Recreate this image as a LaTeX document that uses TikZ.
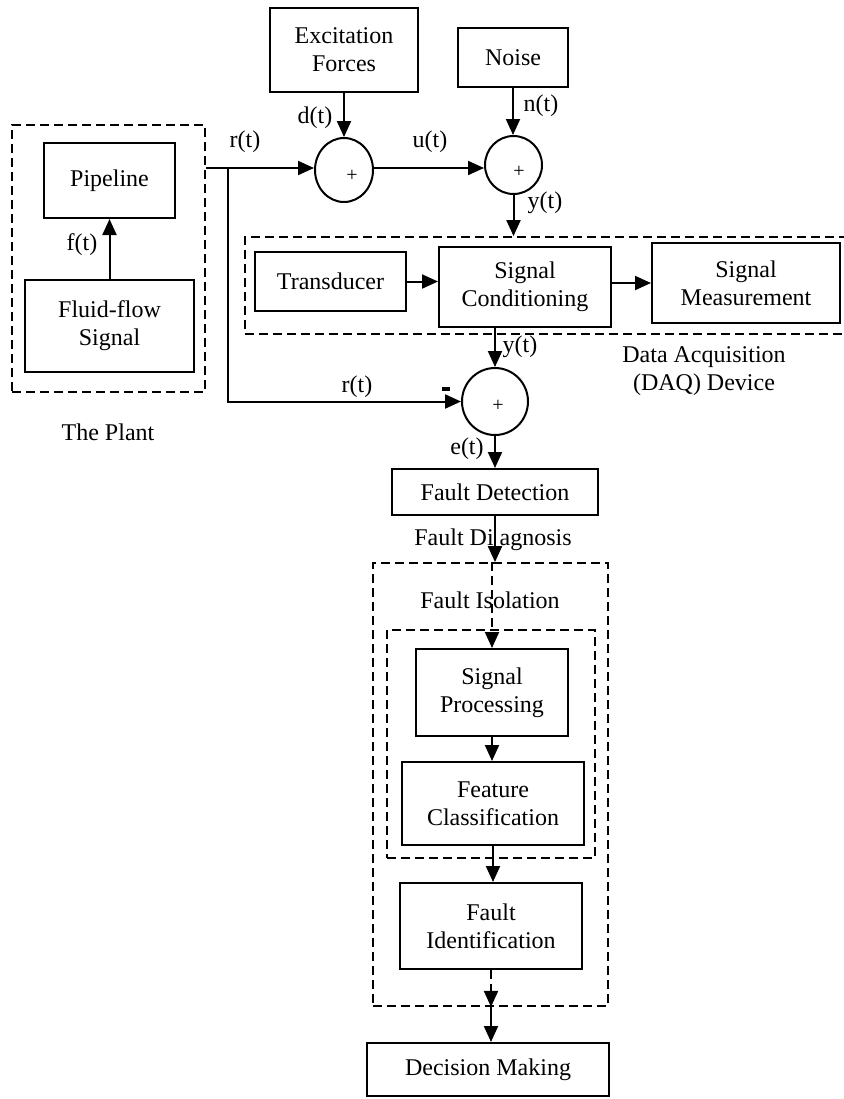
\documentclass[tikz,border=0pt]{standalone}
\usepackage{fontspec}
\setmainfont{Liberation Serif}
\usetikzlibrary{arrows.meta,shapes.geometric,calc}

\begin{document}
\begin{tikzpicture}[x=0.5pt,y=-0.5pt,
  every node/.style={font=\fontsize{12pt}{14pt}\selectfont},
  sz/.style 2 args={minimum width=#1*0.5pt,minimum height=#2*0.5pt},
  blk/.style={draw,line width=1pt,rectangle,align=center,inner sep=0pt},
  grp/.style={draw,line width=0.9pt,dash pattern=on 4.5pt off 2.5pt,rectangle,inner sep=0pt},
  sum/.style={draw,line width=1pt,ellipse,inner sep=0pt},
  plus/.style={font=\fontsize{10pt}{11pt}\selectfont,inner sep=0pt},
  lbl/.style={inner sep=0pt,align=center},
  arr/.style={line width=1pt,-{Triangle[length=8pt,width=7pt]}},
  dasharr/.style={arr,dash pattern=on 4.5pt off 2.5pt}]

\useasboundingbox (0,0) rectangle (844,1099);
\clip (0,0) rectangle (844,1099);

% sources and summing junctions
\node[blk,sz={148}{84}] (exc) at (344,50) {Excitation\\Forces};
\node[blk,sz={110}{59}] (noise) at (513,57.5) {Noise};
\node[sum,sz={58}{64}] (s1) at (344,170) {};
\node[sum,sz={57}{58}] (s2) at (513.5,165) {};
\node[sum,sz={66}{67}] (s3) at (495,401.5) {};
\node[plus] (p1) at (352,176) {+};
\node[plus] (p2) at (519,172) {+};
\node[plus] (p3) at (498,406) {+};

% the plant
\node[grp,sz={193}{267}] (plant) at (108.5,258.5) {};
\node[blk,sz={131}{75}] (pipe) at (109.5,180.5) {Pipeline};
\node[blk,sz={169}{92}] (fluid) at (109.5,326) {Fluid-flow\\Signal};

% data acquisition chain
\node[grp,sz={610}{97}] (daq) at (550,285.5) {};
\node[blk,sz={151}{59}] (trans) at (330.5,281.5) {Transducer};
\node[blk,sz={172}{80}] (sc) at (525,287) {Signal\\Conditioning};
\node[blk,sz={188}{80}] (sm) at (746,283) {Signal\\Measurement};

% detection and diagnosis
\node[blk,sz={206}{46}] (fd) at (495,492) {Fault Detection};
\node[grp,sz={235}{443}] (diag) at (490.5,784.5) {};
\node[grp,sz={208}{228}] (iso) at (491,744) {};
\node[blk,sz={152}{87}] (sp) at (492,692.5) {Signal\\Processing};
\node[blk,sz={182}{83}] (fc) at (493,803.5) {Feature\\Classification};
\node[blk,sz={182}{86}] (fi) at (491,926) {Fault\\Identification};
\node[blk,sz={242}{53}] (dm) at (488,1069.5) {Decision Making};

% signal and group labels
\node[lbl] (ld) at (315,118) {d(t)};
\node[lbl] (ln) at (541,106) {n(t)};
\node[lbl] (lr1) at (245,142) {r(t)};
\node[lbl] (lu) at (430,142) {u(t)};
\node[lbl] (ly1) at (545,203) {y(t)};
\node[lbl] (lf) at (82,245) {f(t)};
\node[lbl] (ly2) at (520,347) {y(t)};
\node[lbl] (lr2) at (357,387) {r(t)};
\node[lbl] (lminus) at (446,389) {\rule{4pt}{2pt}};
\node[lbl] (le) at (467,449) {e(t)};
\node[lbl] (lplant) at (108,432) {The Plant};
\node[lbl] (ldaq) at (704,371) {Data Acquisition\\(DAQ) Device};
\node[lbl] (ldiag) at (493,540) {Fault Di\hspace{3pt}agnosis};
\node[lbl] (liso) at (490,600) {Fault Isolation};

% connectors
\coordinate (rout) at (206,168);
\coordinate (rbr) at (228,168);
\draw[arr] (rout) -- (rout -| s1.west);
\draw[arr] (exc.south) -- (s1.north);
\draw[arr] (s1.east |- rout) -- (rout -| s2.west);
\draw[arr] (noise.south) -- (noise.south |- s2.north);
\draw[arr] (s2.south) -- (s2.south |- daq.north);
\draw[arr] (fluid.north) -- (pipe.south);
\draw[arr] (rbr) |- (s3.west);
\draw[arr] (trans.east) -- (trans.east -| sc.west);
\draw[arr] (sc.east |- sm.west) -- (sm.west);
\draw[arr] (s3.north |- sc.south) -- (s3.north);
\draw[arr] (s3.south) -- (fd.north);
\draw[arr] (fd.south) -- (fd.south |- diag.north);
\draw[dasharr] (sp.north |- diag.north) -- (sp.north);
\draw[arr] (sp.south) -- (sp.south |- fc.north);
\draw[arr] (fc.south) -- (fc.south |- fi.north);
\draw[dasharr] (fi.south) -- (fi.south |- diag.south);
\draw[arr] (fi.south |- diag.south) -- (fi.south |- dm.north);
\end{tikzpicture}
\end{document}
